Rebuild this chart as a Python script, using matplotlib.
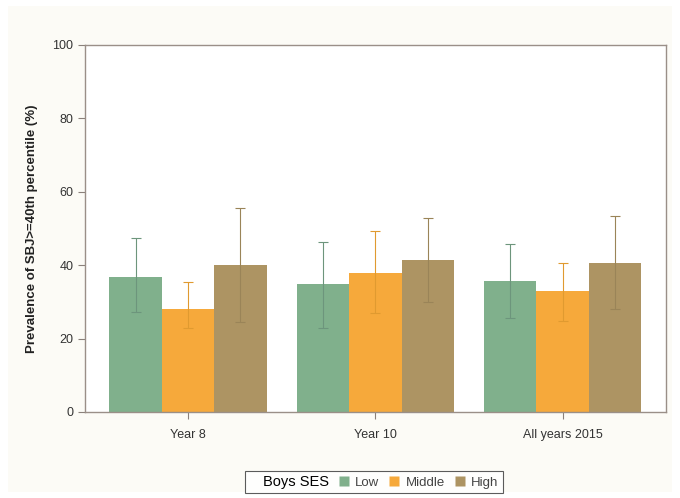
import numpy as np
import matplotlib
matplotlib.use("Agg")
import matplotlib.pyplot as plt
from matplotlib.patches import Rectangle
from matplotlib.lines import Line2D

plt.rcParams['font.family'] = ['Liberation Sans', 'DejaVu Sans']

# data
groups = ["Year 8", "Year 10", "All years 2015"]
ses_levels = ["Low", "Middle", "High"]
prevalence = {
    "Low":    [36.8, 34.9, 35.8],
    "Middle": [28.0, 38.0, 33.0],
    "High":   [40.1, 41.4, 40.5],
}
upper_ci = {
    "Low":    [47.4, 46.3, 45.7],
    "Middle": [35.4, 49.3, 40.5],
    "High":   [55.6, 52.8, 53.3],
}
lower_ci = {
    "Low":    [27.2, 22.9, 25.6],
    "Middle": [22.9, 27.0, 24.9],
    "High":   [24.6, 30.0, 28.0],
}

bar_colors = {"Low": "#80b08c", "Middle": "#f6a93b", "High": "#ad9463"}
err_colors = {"Low": "#6d957c", "Middle": "#e09a30", "High": "#9a8458"}

fig = plt.figure(figsize=(6.8, 4.98), dpi=100)
fig.patch.set_facecolor("white")
# light cream graph region like stata
fig.patches.append(Rectangle((0.012, 0.012), 0.976, 0.976, transform=fig.transFigure,
                             facecolor="#fcfbf6", edgecolor="none", zorder=-5))

ax = fig.add_axes([0.125, 0.1727, 0.854, 0.737])
ax.set_facecolor("white")
ax.set_zorder(1)

x = np.arange(len(groups))
width = 0.28
for i, lvl in enumerate(ses_levels):
    pos = x + (i - 1) * width
    vals = np.array(prevalence[lvl])
    lo = np.array(lower_ci[lvl])
    hi = np.array(upper_ci[lvl])
    ax.bar(pos, vals, width, color=bar_colors[lvl], label=lvl, zorder=2)
    ax.errorbar(pos, vals, yerr=[vals - lo, hi - vals], fmt="none",
                ecolor=err_colors[lvl], elinewidth=0.8, capsize=3.5, capthick=0.8, zorder=3)

ax.set_xlim(-0.55, 2.55)
ax.set_ylim(0, 100)
ax.set_yticks([0, 20, 40, 60, 80, 100])
ax.set_xticks(x)
ax.set_xticklabels(groups)
ax.tick_params(axis="both", direction="out", length=5, width=0.8, color="#8a807a",
               labelsize=9, labelcolor="#333333")
ax.tick_params(axis="x", pad=7)
for s in ax.spines.values():
    s.set_color("#9a8f88")
    s.set_linewidth(1.0)
ax.set_ylabel("Prevalence of SBJ>=40th percentile (%)", fontsize=9.5,
              fontweight="bold", color="#222222", labelpad=10)

# legend with inline title
handles = [Line2D([], [], linestyle="none")]
labels = ["Boys SES"]
for lvl in ses_levels:
    handles.append(Line2D([], [], marker="s", linestyle="none", markersize=7,
                          markerfacecolor=bar_colors[lvl], markeredgecolor="none"))
    labels.append(lvl)
leg = fig.legend(handles, labels, loc="center", bbox_to_anchor=(0.55, 0.032), ncol=4,
                 fontsize=9.5, frameon=True, fancybox=False, edgecolor="#333333",
                 handlelength=0.3, handletextpad=0.7, columnspacing=1.0,
                 borderpad=0.3, borderaxespad=0)
leg.get_frame().set_linewidth(0.8)
leg.get_texts()[0].set_fontsize(10.5)
for t in leg.get_texts()[1:]:
    t.set_color("#444444")

fig.savefig("out.png", dpi=100)
